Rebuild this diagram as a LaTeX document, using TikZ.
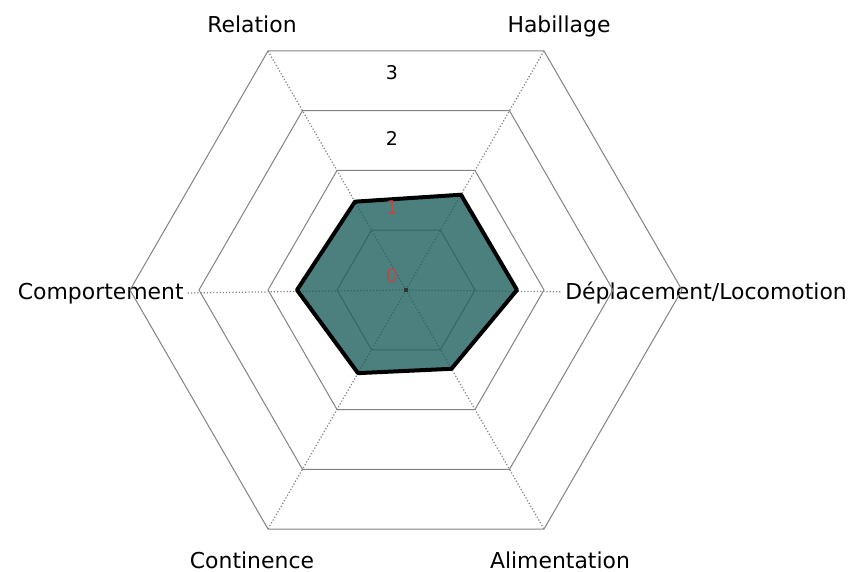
\documentclass[tikz,border=0pt]{standalone}
\usepackage{fontspec}
\setmainfont{DejaVu Sans}
\usetikzlibrary{positioning}
\definecolor{radarfill}{RGB}{30,96,94}
\definecolor{gridgray}{RGB}{130,130,130}
\definecolor{tickred}{RGB}{185,75,75}

\begin{document}
\begin{tikzpicture}[x=1bp,y=1bp,semithick,
    grid/.style={draw=gridgray,line width=1bp},
    axis/.style={draw=gridgray,dotted,line width=1.2bp},
    radar/.style={fill=radarfill,fill opacity=0.8,draw=black,draw opacity=1,line width=4bp,line join=round},
    axislabel/.style={font=\fontsize{22}{26}\selectfont,inner sep=3bp},
    tick/.style={font=\fontsize{19}{22}\selectfont,inner sep=0pt}]
    \useasboundingbox (-406,-282) rectangle (460,290);
    \coordinate (O) at (0,0);

    % labels of the six axes
    \node [axislabel,anchor=base] (rel)  at (-154,257)  {Relation};
    \node [axislabel,anchor=base] (hab)  at (153,257)   {Habillage};
    \node [axislabel,anchor=base east] (comp) at (-219,-10) {Comportement};
    \node [axislabel,anchor=base west] (dep)  at (156,-10)  {Déplacement/Locomotion};
    \node [axislabel,anchor=base] (cont) at (-154,-278) {Continence};
    \node [axislabel,anchor=base] (alim) at (154,-278)  {Alimentation};

    % hexagonal grid
    \foreach \r in {69,138,207,276}
      \draw [grid] (0:\r) -- (60:\r) -- (120:\r) -- (180:\r) -- (240:\r) -- (300:\r) -- cycle;

    \coordinate (v60)  at (60:276);
    \coordinate (v120) at (120:276);
    \coordinate (v240) at (240:276);
    \coordinate (v300) at (300:276);
    \draw [axis] (O) -- (comp);
    \draw [axis] (O) -- (dep);
    \draw [axis] (O) -- (v60);
    \draw [axis] (O) -- (v120);
    \draw [axis] (O) -- (v240);
    \draw [axis] (O) -- (v300);

    % values
    \coordinate (pdep)  at (0:111);
    \coordinate (phab)  at (60:110);
    \coordinate (prel)  at (120:102);
    \coordinate (pcomp) at (180:109);
    \coordinate (pcont) at (240:96);
    \coordinate (palim) at (300:91);
    \draw [radar] (pdep) -- (phab) -- (prel) -- (pcomp) -- (pcont) -- (palim) -- cycle;
    \fill [black!80] (-2,-2) rectangle (2,2);

    % scale
    \node [tick,text=tickred] (t0) at (-14,14)  {0};
    \node [tick,text=tickred] (t1) at (-14,82)  {1};
    \node [tick] (t2) at (-14,152) {2};
    \node [tick] (t3) at (-14,217) {3};
\end{tikzpicture}
\end{document}
